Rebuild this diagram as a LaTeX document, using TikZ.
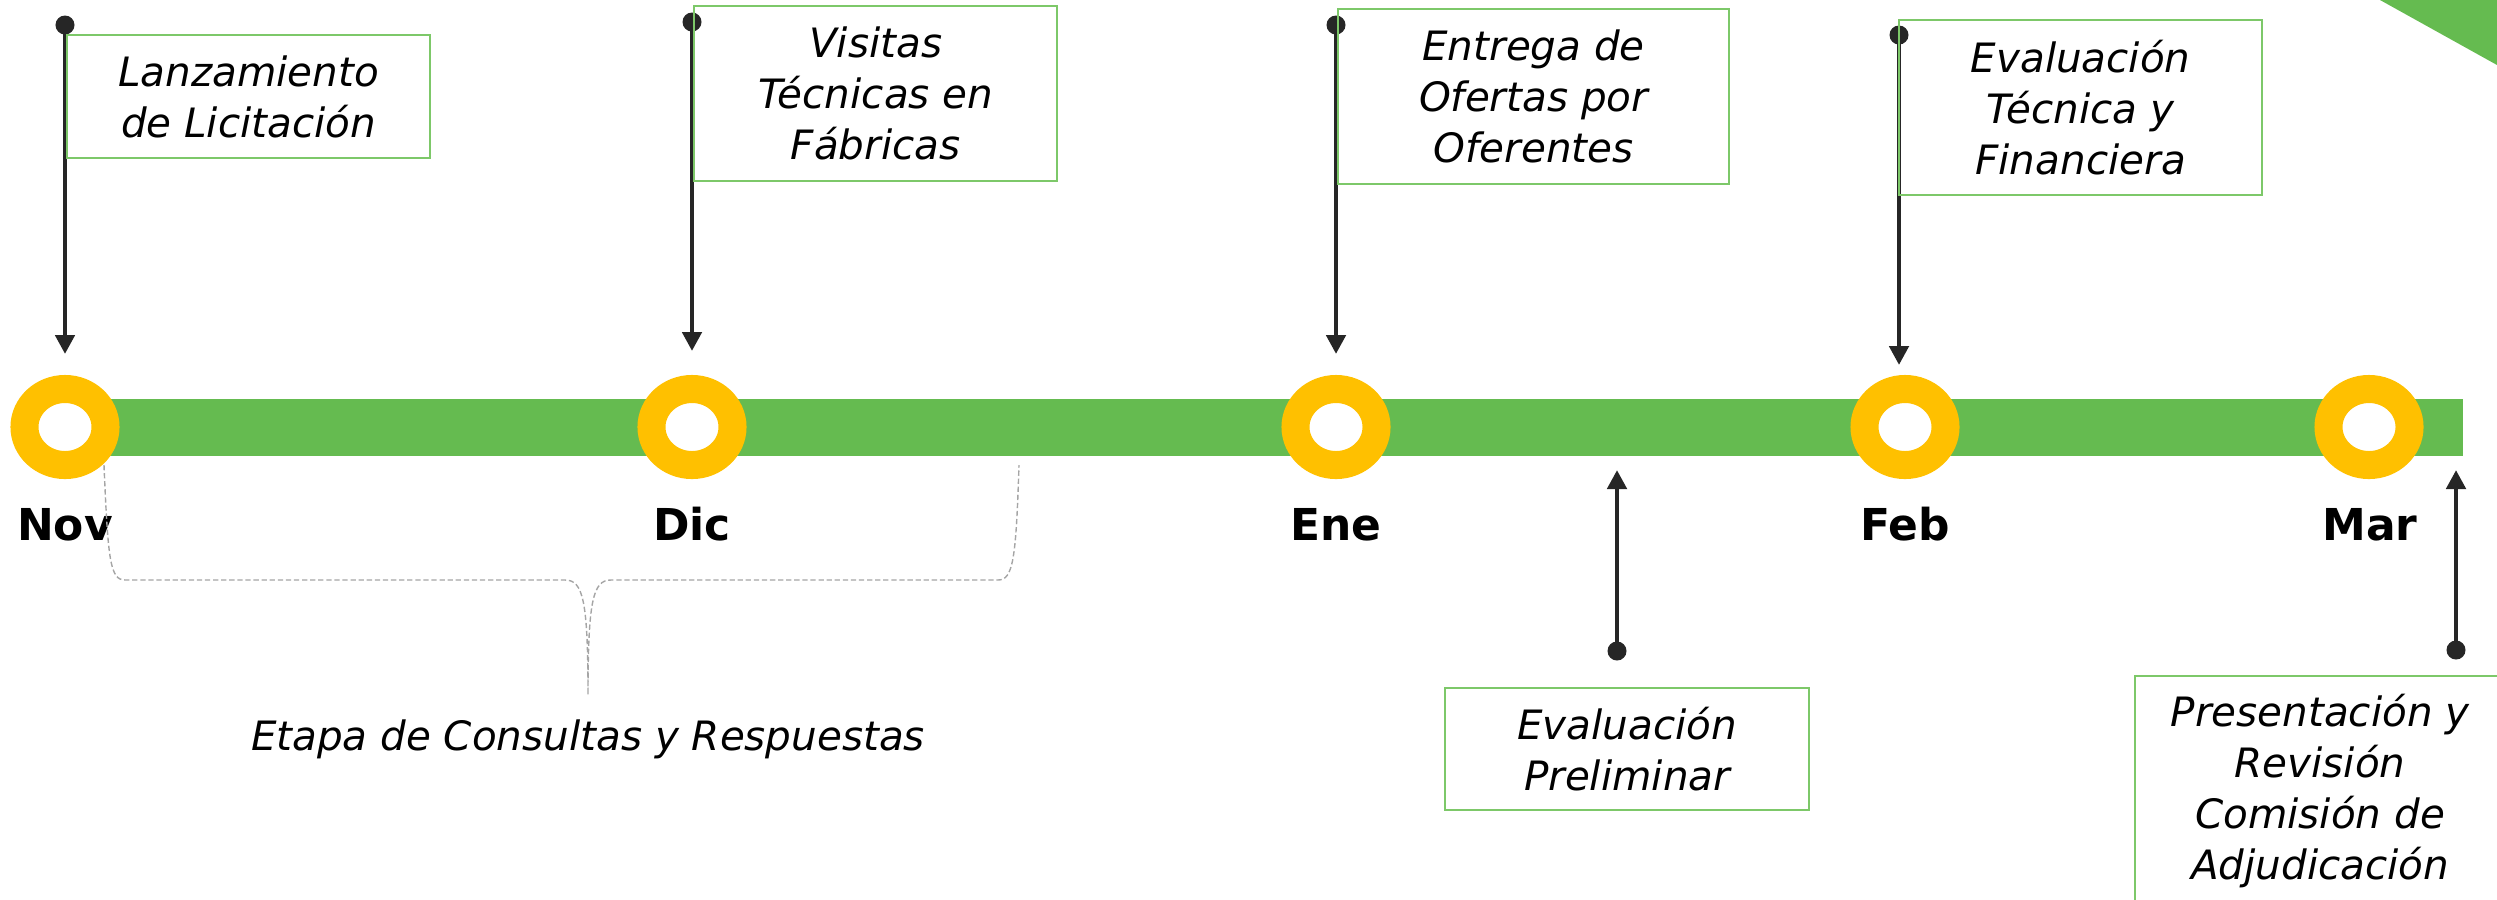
\documentclass[tikz,border=0pt]{standalone}
\usepackage{fontspec}
\setmainfont{DejaVu Sans}
\usetikzlibrary{arrows.meta,shapes.geometric}
\definecolor{bargreen}{RGB}{101,187,80}
\definecolor{ringyellow}{RGB}{255,192,0}
\definecolor{pingray}{RGB}{38,38,38}
\definecolor{boxgreen}{RGB}{125,200,105}
\definecolor{bracegray}{RGB}{165,165,165}

\begin{document}
\begin{tikzpicture}[x=0.01cm,y=-0.01cm,
  ring/.style={ellipse,draw=ringyellow,line width=0.28cm,fill=white,
    minimum width=0.81cm,minimum height=0.76cm,inner sep=0pt},
  month/.style={anchor=base,font=\bfseries\fontsize{12.5}{15}\selectfont},
  pindot/.style={circle,fill=pingray,minimum size=0.19cm,inner sep=0pt},
  pin/.style={pingray,line width=0.047cm,-{Triangle[width=0.19cm,length=0.19cm]}},
  flag/.style={draw=boxgreen,line width=0.02cm,align=center,inner sep=0pt,
    font=\itshape\fontsize{11.5}{14.5}\selectfont},
  brace/.style={bracegray,line width=0.4pt,dash pattern=on 1.5pt off 0.8pt}]
\useasboundingbox (0,0) rectangle (2497,899);
\clip (0,0) rectangle (2497,899);

%%% corner mark and the time line
\fill[bargreen] (2380,0) -- (2497,0) -- (2497,65) -- cycle;
\fill[bargreen] (65,399) rectangle (2463,456);

%%% the months
\node[ring] (nov) at (65,427) {};
\node[ring] (dic) at (692,427) {};
\node[ring] (ene) at (1336,427) {};
\node[ring] (feb) at (1905,427) {};
\node[ring] (mar) at (2369,427) {};
\node[month] (novlbl) at (65,540) {Nov};
\node[month] (diclbl) at (692,540) {Dic};
\node[month] (enelbl) at (1336,540) {Ene};
\node[month] (feblbl) at (1905,540) {Feb};
\node[month] (marlbl) at (2370,540) {Mar};

%%% pins from above
\node[pindot] (novdot) at (65,25) {};
\node[pindot] (dicdot) at (692,22) {};
\node[pindot] (enedot) at (1336,25) {};
\node[pindot] (febdot) at (1899,35) {};
\coordinate (novtip) at (65,354);
\coordinate (dictip) at (692,351);
\coordinate (enetip) at (1336,354);
\coordinate (febtip) at (1899,365);
\draw[pin] (novdot.center) -- (novtip);
\draw[pin] (dicdot.center) -- (dictip);
\draw[pin] (enedot.center) -- (enetip);
\draw[pin] (febdot.center) -- (febtip);

%%% pins from below
\node[pindot] (predot) at (1617,651) {};
\node[pindot] (comdot) at (2456,650) {};
\coordinate (pretip) at (1617,470);
\coordinate (comtip) at (2456,470);
\draw[pin] (predot.center) -- (pretip);
\draw[pin] (comdot.center) -- (comtip);

%%% the flags
\node[flag,anchor=north west,minimum width=3.63cm,minimum height=1.23cm]
  (novbox) at (66,34) {Lanzamiento\\de Licitación};
\node[flag,anchor=north west,minimum width=3.63cm,minimum height=1.75cm]
  (dicbox) at (693,5) {Visitas\\Técnicas en\\Fábricas};
\node[flag,anchor=north west,minimum width=3.91cm,minimum height=1.75cm]
  (enebox) at (1337,8) {Entrega de\\Ofertas por\\Oferentes};
\node[flag,anchor=north west,minimum width=3.63cm,minimum height=1.75cm]
  (febbox) at (1898,19) {Evaluación\\Técnica y\\Financiera};
\node[flag,anchor=north west,minimum width=3.64cm,minimum height=1.22cm]
  (prebox) at (1444,687) {Evaluación\\Preliminar};
\node[flag,anchor=north west,minimum width=3.70cm,minimum height=2.30cm]
  (combox) at (2134,675) {Presentación y\\Revisión\\Comisión de\\Adjudicación};

%%% the brace
\coordinate (bracetip) at (588,695);
\draw[brace] (104,465) .. controls (108,560) and (110,580) .. (125,580) -- (565,580)
  .. controls (583,580) and (588,600) .. (bracetip)
  .. controls (588,600) and (593,580) .. (611,580) -- (998,580)
  .. controls (1013,580) and (1016,560) .. (1019,465);
\node[anchor=base,font=\itshape\fontsize{11.5}{14.5}\selectfont] (etapa) at (588,750)
  {Etapa de Consultas y Respuestas};
\end{tikzpicture}
\end{document}
